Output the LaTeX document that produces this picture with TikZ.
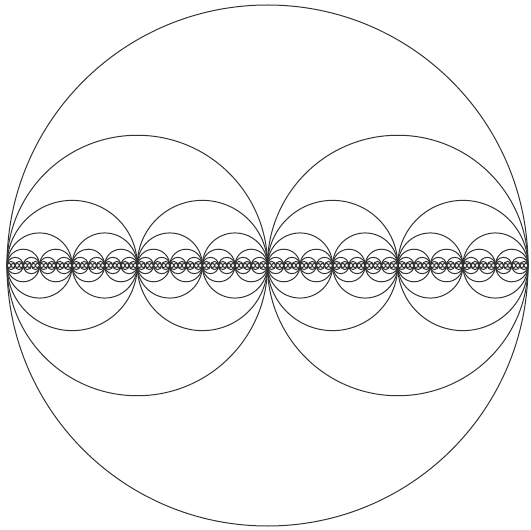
\documentclass[tikz,border=0pt]{standalone}
\begin{document}
\begin{tikzpicture}[x=0.02cm,y=-0.02cm,ring/.style={draw=black!80,line width=0.02cm}]
\useasboundingbox (0,0) rectangle (531,530);
\foreach \k in {0,...,7}{
  \pgfmathsetmacro{\r}{260.5/2^\k}
  \pgfmathtruncatemacro{\n}{2^\k-1}
  \foreach \i in {0,...,\n}{
    \pgfmathsetmacro{\cx}{7+\r*(2*\i+1)}
    \draw[ring] (\cx,265.5) circle[radius=\r];
  }
}
\end{tikzpicture}
\end{document}
